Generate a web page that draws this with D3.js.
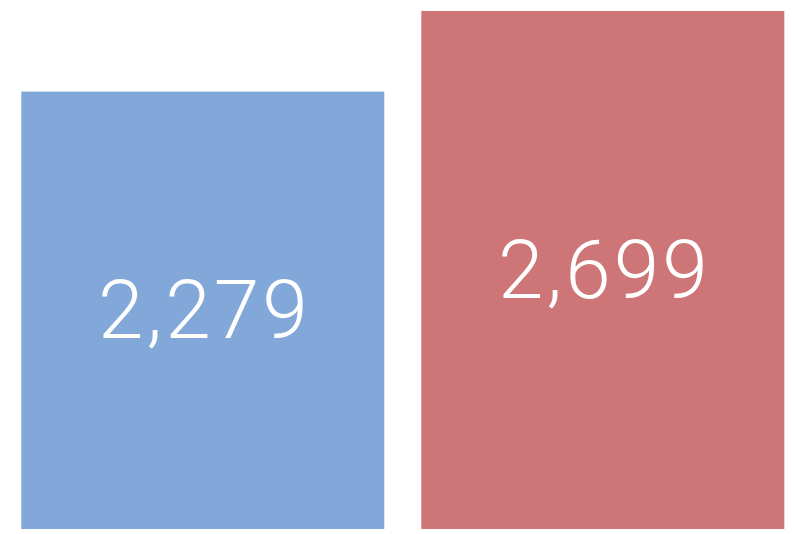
<!DOCTYPE html>
<html><head><meta charset="utf-8">
<script src="https://cdn.jsdelivr.net/npm/d3@7"></script>
<style>html,body{margin:0;padding:0;background:#fff;overflow:hidden}</style>
</head><body>
<svg id="c" width="794" height="534"></svg>
<script>
const categories = ["A", "B"];
const values = [2279, 2699];
const colors = ["#82a7d9", "#ce7577"];

const svg = d3.select("#c");
const x = d3.scaleBand().domain(categories).range([21.3, 784.3]).paddingInner(0.0925).paddingOuter(0);
const y = d3.scaleLinear().domain([0, 2699]).range([529, 11]);

const g = svg.selectAll("g.bar").data(categories).join("g").attr("class", "bar");
g.append("rect")
  .attr("x", d => x(d))
  .attr("width", x.bandwidth())
  .attr("y", (d, i) => y(values[i]))
  .attr("height", (d, i) => y(0) - y(values[i]))
  .attr("fill", (d, i) => colors[i]);
g.append("text")
  .attr("x", d => x(d) + x.bandwidth() / 2 + 1.5)
  .attr("y", (d, i) => (y(values[i]) + y(0)) / 2)
  .attr("text-anchor", "middle")
  .attr("dominant-baseline", "central")
  .attr("fill", "#fff")
  .style("font-family", "'Helvetica Neue', Roboto, 'Liberation Sans', sans-serif")
  .style("font-weight", 300)
  .style("font-size", "82px")
  .style("letter-spacing", "3px")
  .text((d, i) => d3.format(",")(values[i]));
</script>
</body></html>
